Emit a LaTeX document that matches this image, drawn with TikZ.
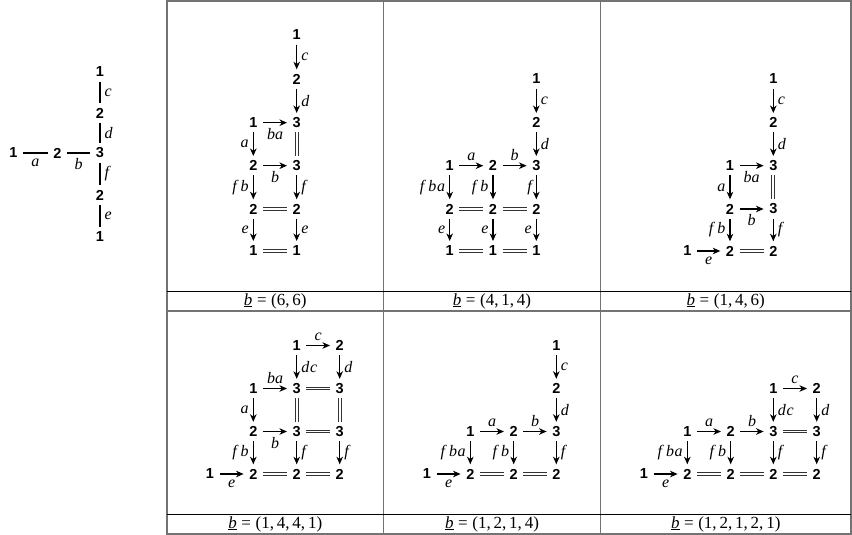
\documentclass[tikz,border=0pt]{standalone}
\usepackage{fontspec}
\setmainfont{Liberation Serif}
\newfontfamily\dfont{Liberation Sans}
\usetikzlibrary{arrows.meta}
\newcommand\lfont{\itshape\fontsize{16}{19}\selectfont}
\newcommand\capfont{\fontsize{17}{20}\selectfont}
\newcommand\bvec{\underline{\textit{b}}\kern4.6pt=\kern4.6pt}
\tikzset{
  v/.style={font=\dfont\bfseries\fontsize{14.5}{16}\selectfont, inner sep=0pt, minimum width=19pt, minimum height=19pt},
  ar/.style={-{Stealth[length=7.5pt,width=6.5pt,inset=2.2pt]}, line width=1.2pt},
  eq/.style={draw=black!80, double=white, double distance=1.8pt, line width=1pt},
  ln/.style={line width=1.25pt},
  la/.style={font=\lfont, anchor=south, inner sep=4.5pt},
  lbw/.style={font=\lfont, anchor=north, inner sep=5pt},
  ll/.style={font=\lfont, anchor=east, inner sep=4pt},
  lr/.style={font=\lfont, anchor=west, inner sep=4pt},
  gridline/.style={draw=black!55, line width=1.3pt},
  capline/.style={draw=black, line width=0.9pt},
  captext/.style={font=\capfont, inner sep=0pt}
}
\begin{document}
\begin{tikzpicture}[x=1pt,y=-1pt]
\useasboundingbox (0,0) rectangle (852,535);
% table
\draw[gridline] (167,1) rectangle (851,534);
\draw[gridline] (383.5,1) -- (383.5,534);
\draw[gridline] (600.5,1) -- (600.5,534);
\draw[gridline] (167,311) -- (851,311);
\draw[capline] (167,291) -- (851,291);
\draw[capline] (167,514) -- (851,514);
% captions
\node[captext] (k1) at (275.25,301) {\bvec(6,\,6)};
\node[captext] (k2) at (492,301) {\bvec(4,\,1,\,4)};
\node[captext] (k3) at (725.75,301) {\bvec(1,\,4,\,6)};
\node[captext] (k4) at (275.25,524) {\bvec(1,\,4,\,4,\,1)};
\node[captext] (k5) at (492,524) {\bvec(1,\,2,\,1,\,4)};
\node[captext] (k6) at (725.75,524) {\bvec(1,\,2,\,1,\,2,\,1)};

% left tree
\node[v] (t1) at (13.3,153) {1};
\node[v] (t2) at (57.3,153) {2};
\node[v] (t3) at (100,153) {3};
\node[v] (tc) at (100,72) {1};
\node[v] (td) at (100,113) {2};
\node[v] (tf) at (100,195) {2};
\node[v] (te) at (100,237) {1};
\draw[ln] (t1) -- node[lbw]{a} (t2);
\draw[ln] (t2) -- node[lbw]{b} (t3);
\draw[ln] (tc) -- node[lr]{c} (td);
\draw[ln] (td) -- node[lr]{d} (t3);
\draw[ln] (t3) -- node[lr]{f} (tf);
\draw[ln] (tf) -- node[lr]{e} (te);

% panel 1
\node[v] (A21) at (296.7,35) {1};
\node[v] (A22) at (296.7,79) {2};
\node[v] (A23) at (296.7,122.7) {3};
\node[v] (A13) at (253.3,122.7) {1};
\node[v] (A14) at (253.3,165.7) {2};
\node[v] (A24) at (296.7,165.7) {3};
\node[v] (A15) at (253.3,209) {2};
\node[v] (A25) at (296.7,209) {2};
\node[v] (A16) at (253.3,250.7) {1};
\node[v] (A26) at (296.7,250.7) {1};
\draw[ar] (A21) -- node[lr]{c} (A22);
\draw[ar] (A22) -- node[lr]{d} (A23);
\draw[ar] (A13) -- node[lbw]{ba} (A23);
\draw[ar] (A13) -- node[ll]{a} (A14);
\draw[eq] (A23) -- (A24);
\draw[ar] (A14) -- node[lbw]{b} (A24);
\draw[ar] (A14) -- node[ll]{f\kern4pt b} (A15);
\draw[ar] (A24) -- node[lr]{f} (A25);
\draw[eq] (A15) -- (A25);
\draw[ar] (A15) -- node[ll]{e} (A16);
\draw[ar] (A25) -- node[lr]{e} (A26);
\draw[eq] (A16) -- (A26);

% panel 2
\node[v] (B31) at (536.3,79) {1};
\node[v] (B32) at (536.3,122.7) {2};
\node[v] (B33) at (536.3,165.7) {3};
\node[v] (B13) at (449.7,165.7) {1};
\node[v] (B23) at (493,165.7) {2};
\node[v] (B14) at (449.7,209) {2};
\node[v] (B24) at (493,209) {2};
\node[v] (B34) at (536.3,209) {2};
\node[v] (B15) at (449.7,250.7) {1};
\node[v] (B25) at (493,250.7) {1};
\node[v] (B35) at (536.3,250.7) {1};
\draw[ar] (B31) -- node[lr]{c} (B32);
\draw[ar] (B32) -- node[lr]{d} (B33);
\draw[ar] (B13) -- node[la]{a} (B23);
\draw[ar] (B23) -- node[la]{b} (B33);
\draw[ar] (B13) -- node[ll]{f\kern4pt b\kern0.7pt a} (B14);
\draw[ar] (B23) -- node[ll]{f\kern4pt b} (B24);
\draw[ar] (B33) -- node[ll]{f} (B34);
\draw[eq] (B14) -- (B24);
\draw[eq] (B24) -- (B34);
\draw[ar] (B14) -- node[ll]{e} (B15);
\draw[ar] (B24) -- node[ll]{e} (B25);
\draw[ar] (B34) -- node[ll]{e} (B35);
\draw[eq] (B15) -- (B25);
\draw[eq] (B25) -- (B35);

% panel 3
\node[v] (C31) at (773.3,79) {1};
\node[v] (C32) at (773.3,122.7) {2};
\node[v] (C33) at (773.3,165.7) {3};
\node[v] (C23) at (730,165.7) {1};
\node[v] (C24) at (730,209) {2};
\node[v] (C34) at (773.3,209) {3};
\node[v] (C15) at (687.3,251) {1};
\node[v] (C25) at (730,251) {2};
\node[v] (C35) at (773.3,251) {2};
\draw[ar] (C31) -- node[lr]{c} (C32);
\draw[ar] (C32) -- node[lr]{d} (C33);
\draw[ar] (C23) -- node[lbw]{ba} (C33);
\draw[ar] (C23) -- node[ll]{a} (C24);
\draw[eq] (C33) -- (C34);
\draw[ar] (C24) -- node[lbw]{b} (C34);
\draw[ar] (C24) -- node[ll]{f\kern4pt b} (C25);
\draw[ar] (C34) -- node[lr]{f} (C35);
\draw[ar] (C15) -- node[lbw]{e} (C25);
\draw[eq] (C25) -- (C35);

% panel 4
\node[v] (D31) at (296.7,345.5) {1};
\node[v] (D41) at (339.7,345.5) {2};
\node[v] (D22) at (253.3,388.5) {1};
\node[v] (D32) at (296.7,388.5) {3};
\node[v] (D42) at (339.7,388.5) {3};
\node[v] (D23) at (253.3,431.5) {2};
\node[v] (D33) at (296.7,431.5) {3};
\node[v] (D43) at (339.7,431.5) {3};
\node[v] (D14) at (210,474) {1};
\node[v] (D24) at (253.3,474) {2};
\node[v] (D34) at (296.7,474) {2};
\node[v] (D44) at (339.7,474) {2};
\draw[ar] (D31) -- node[la]{c} (D41);
\draw[ar] (D31) -- node[lr]{d\kern0.8pt c} (D32);
\draw[ar] (D41) -- node[lr]{d} (D42);
\draw[ar] (D22) -- node[la]{ba} (D32);
\draw[eq] (D32) -- (D42);
\draw[ar] (D22) -- node[ll]{a} (D23);
\draw[eq] (D32) -- (D33);
\draw[eq] (D42) -- (D43);
\draw[ar] (D23) -- node[lbw]{b} (D33);
\draw[eq] (D33) -- (D43);
\draw[ar] (D23) -- node[ll]{f\kern4pt b} (D24);
\draw[ar] (D33) -- node[lr]{f} (D34);
\draw[ar] (D43) -- node[lr]{f} (D44);
\draw[ar] (D14) -- node[lbw]{e} (D24);
\draw[eq] (D24) -- (D34);
\draw[eq] (D34) -- (D44);

% panel 5
\node[v] (E41) at (556.3,345.5) {1};
\node[v] (E42) at (556.3,388.5) {2};
\node[v] (E43) at (556.3,431.5) {3};
\node[v] (E23) at (470.3,431.5) {1};
\node[v] (E33) at (513.7,431.5) {2};
\node[v] (E14) at (427,474) {1};
\node[v] (E24) at (470.3,474) {2};
\node[v] (E34) at (513.7,474) {2};
\node[v] (E44) at (556.3,474) {2};
\draw[ar] (E41) -- node[lr]{c} (E42);
\draw[ar] (E42) -- node[lr]{d} (E43);
\draw[ar] (E23) -- node[la]{a} (E33);
\draw[ar] (E33) -- node[la]{b} (E43);
\draw[ar] (E23) -- node[ll]{f\kern4pt b\kern0.7pt a} (E24);
\draw[ar] (E33) -- node[ll]{f\kern4pt b} (E34);
\draw[ar] (E43) -- node[lr]{f} (E44);
\draw[ar] (E14) -- node[lbw]{e} (E24);
\draw[eq] (E24) -- (E34);
\draw[eq] (E34) -- (E44);

% panel 6
\node[v] (F42) at (773.3,388.5) {1};
\node[v] (F52) at (816.7,388.5) {2};
\node[v] (F23) at (687.3,431.5) {1};
\node[v] (F33) at (730.7,431.5) {2};
\node[v] (F43) at (773.3,431.5) {3};
\node[v] (F53) at (816.7,431.5) {3};
\node[v] (F14) at (644,474) {1};
\node[v] (F24) at (687.3,474) {2};
\node[v] (F34) at (730.7,474) {2};
\node[v] (F44) at (773.3,474) {2};
\node[v] (F54) at (816.7,474) {2};
\draw[ar] (F42) -- node[la]{c} (F52);
\draw[ar] (F42) -- node[lr]{d\kern0.8pt c} (F43);
\draw[ar] (F52) -- node[lr]{d} (F53);
\draw[ar] (F23) -- node[la]{a} (F33);
\draw[ar] (F33) -- node[la]{b} (F43);
\draw[eq] (F43) -- (F53);
\draw[ar] (F23) -- node[ll]{f\kern4pt b\kern0.7pt a} (F24);
\draw[ar] (F33) -- node[ll]{f\kern4pt b} (F34);
\draw[ar] (F43) -- node[lr]{f} (F44);
\draw[ar] (F53) -- node[lr]{f} (F54);
\draw[ar] (F14) -- node[lbw]{e} (F24);
\draw[eq] (F24) -- (F34);
\draw[eq] (F34) -- (F44);
\draw[eq] (F44) -- (F54);
\end{tikzpicture}
\end{document}
